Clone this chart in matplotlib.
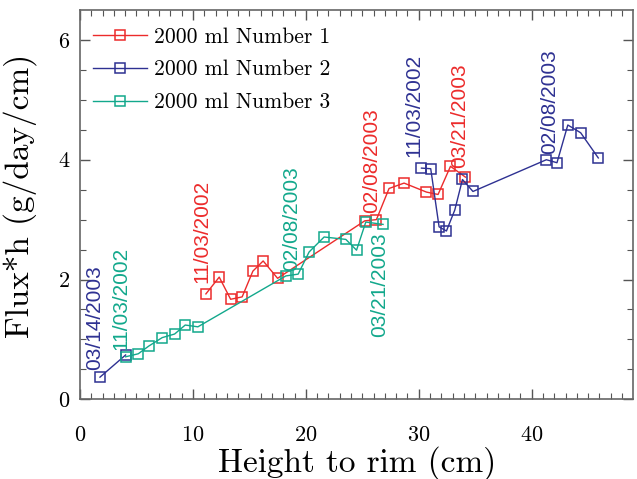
import numpy as np
import matplotlib
matplotlib.use("Agg")
from matplotlib import pyplot as plt

# data (height to rim in cm, flux*h in g/day/cm)
x_n1 = [11.15, 12.33, 13.34, 14.36, 15.31, 16.22, 17.5, 25.22, 26.25, 27.37, 28.7, 30.68, 31.71, 32.81, 34.13]
y_n1 = [1.76, 2.04, 1.67, 1.71, 2.14, 2.31, 2.02, 2.98, 3.0, 3.52, 3.61, 3.46, 3.42, 3.89, 3.71]

# NaN splits the two separate runs of series 2
x_n2 = [1.77, 4.04, np.nan, 30.24, 31.06, 31.8, 32.45, 33.19, 33.87, 34.8, 41.3, 42.24, 43.2, 44.34, 45.9]
y_n2 = [0.37, 0.74, np.nan, 3.86, 3.85, 2.88, 2.81, 3.16, 3.67, 3.47, 4.0, 3.95, 4.58, 4.45, 4.03]

x_n3 = [4.04, 5.16, 6.1, 7.28, 8.38, 9.32, 10.44, 18.23, 19.32, 20.29, 21.62, 23.54, 24.49, 25.31, 26.84]
y_n3 = [0.71, 0.76, 0.89, 1.03, 1.09, 1.24, 1.21, 2.06, 2.09, 2.46, 2.71, 2.67, 2.49, 2.96, 2.92]

labels = ['2000 ml Number 1', '2000 ml Number 2', '2000 ml Number 3']
colors = ['#ec2b2b', '#2e3192', '#12a88c']

# date annotations: (text, x, y, series index, anchor)
dates = [
    ('03/14/2003', 1.33, 0.49, 1, 'bottom'),
    ('11/03/2002', 3.6, 0.82, 2, 'bottom'),
    ('11/03/2002', 10.77, 1.94, 0, 'bottom'),
    ('02/08/2003', 18.76, 2.15, 2, 'bottom'),
    ('02/08/2003', 25.8, 3.11, 0, 'bottom'),
    ('03/21/2003', 26.5, 2.79, 2, 'top'),
    ('11/03/2002', 29.6, 4.04, 1, 'bottom'),
    ('03/21/2003', 33.6, 3.87, 0, 'bottom'),
    ('02/08/2003', 41.6, 4.10, 1, 'bottom'),
]

plt.rcParams['font.family'] = ['cmr10', 'DejaVu Serif']
plt.rcParams['axes.formatter.use_mathtext'] = True

fig = plt.figure(figsize=(6.37, 4.79), dpi=100)
ax = fig.add_axes([80/637, 1-399.3/479, (633.3-80)/637, (399.3-10)/479])

for xs, ys, lab, c in zip([x_n1, x_n2, x_n3], [y_n1, y_n2, y_n3], labels, colors):
    ax.plot(xs, ys, color=c, lw=1.0, marker='s', ms=7.5, mfc='none', mec=c, mew=1.1, label=lab)

for txt, xx, yy, si, va in dates:
    ax.text(xx, yy, txt, rotation=90, ha='center', va=va, color=colors[si],
            fontsize=15, family=['Liberation Sans', 'DejaVu Sans'])

ax.set_xlim(0, 49)
ax.set_ylim(0, 6.5)
ax.set_xticks([0, 10, 20, 30, 40])
ax.set_yticks([0, 2, 4, 6])
ax.set_xticks(np.arange(0, 49, 1), minor=True)
ax.set_yticks(np.arange(0, 6.5, 0.5), minor=True)
ax.tick_params(which='both', direction='in', top=True, right=True, colors='#555555', labelcolor='black')
ax.tick_params(which='major', length=7, width=1, labelsize=16)
ax.tick_params(which='minor', length=4, width=0.8)
ax.tick_params(axis='x', which='major', pad=19)
ax.tick_params(axis='y', which='major', pad=7)
for s in ax.spines.values():
    s.set_color('#666666')
    s.set_linewidth(1.2)

ax.set_xlabel('Height to rim (cm)', fontsize=24)
ax.set_ylabel('Flux*h (g/day/cm)', fontsize=24)
ax.xaxis.set_label_coords(0.5006, -0.12)
ax.yaxis.set_label_coords(-0.078, 0.522)

leg = ax.legend(loc='upper left', frameon=False, fontsize=15.5, handlelength=2.5,
                handletextpad=0.35, labelspacing=0.62, borderaxespad=0, borderpad=0,
                bbox_to_anchor=(13/553.3, 1-17/389.3))

fig.savefig('out.png', dpi=100)
